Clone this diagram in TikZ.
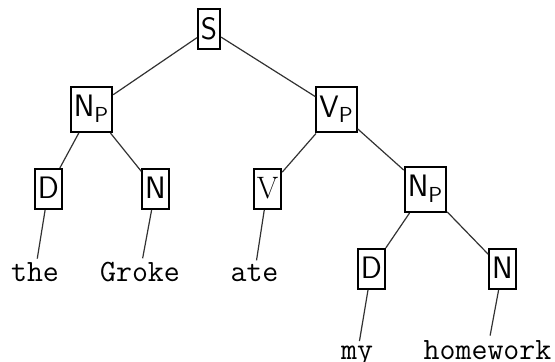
\documentclass[tikz,border=0pt]{standalone}
\usepackage{tikz}
\definecolor{edgec}{RGB}{50,50,50}

\begin{document}
\begin{tikzpicture}[x=0.5pt,y=-0.5pt,
  font=\fontsize{15.5}{18}\selectfont\sffamily,
  cat/.style={draw,line width=1pt,inner xsep=1.5pt,inner ysep=2pt,text height=13pt,text depth=3pt},
  phr/.style={cat,text depth=5.5pt},
  leaf/.style={font=\fontsize{15.5}{18}\selectfont\ttfamily,anchor=base,inner sep=2pt},
  edge/.style={edgec,line width=.6pt}]
\useasboundingbox (0,0) rectangle (555,362);
\node[cat] (s) at (209,29.5) {S};
\node[phr] (np) at (91.5,109.5) {N\textsubscript{P}};
\node[phr] (vp) at (336.5,110) {V\textsubscript{P}};
\node[cat] (d) at (48.5,189) {D};
\node[cat] (n) at (155.5,189) {N};
\node[cat,font=\fontsize{15.5}{18}\selectfont\rmfamily] (v) at (267.5,189) {V};
\node[phr] (npo) at (425.5,189.5) {N\textsubscript{P}};
\node[cat] (do) at (371.5,269) {D};
\node[cat] (no) at (502.5,269) {N};
\node[leaf] (the) at (35,282) {the};
\node[leaf] (groke) at (140,282) {Groke};
\node[leaf] (ate) at (254.5,282) {ate};
\node[leaf] (my) at (357,359) {my};
\node[leaf] (hw) at (487.5,359) {homework};
\foreach \a/\b in {s/np,s/vp,np/d,np/n,vp/v,vp/npo,npo/do,npo/no,d/the,n/groke,v/ate,do/my,no/hw}
  {\draw[edge] (\a) -- (\b);}
\end{tikzpicture}
\end{document}
